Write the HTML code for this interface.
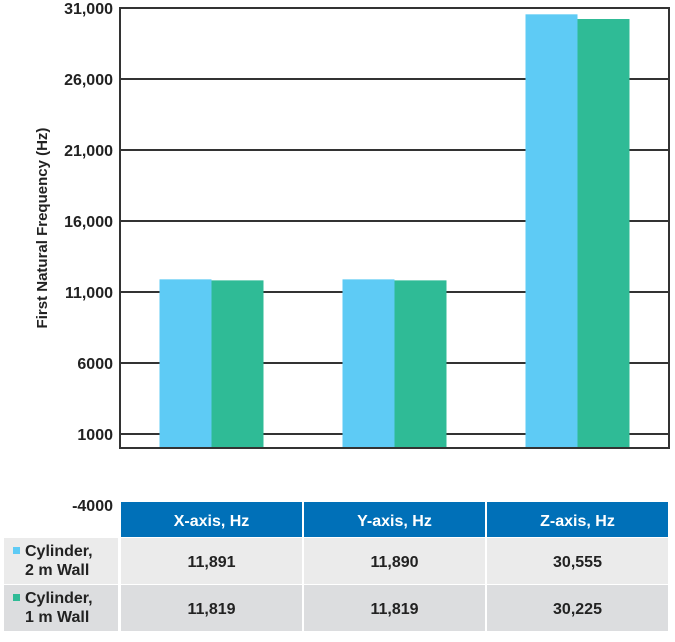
<!DOCTYPE html>
<html><head><meta charset="utf-8"><style>
body{margin:0;background:#fff;font-family:"Liberation Sans",sans-serif;}
svg text{font-family:"Liberation Sans",sans-serif;font-weight:bold;fill:#222;}
</style></head><body>
<svg width="675" height="637">
<g id="grid"></g><g id="bars"></g><g id="ylabels"></g>
<rect x="120" y="8" width="549" height="440" fill="none" stroke="#333" stroke-width="2"/>
<text transform="translate(47,228) rotate(-90)" text-anchor="middle" font-size="15">First Natural Frequency (Hz)</text>
<text x="113" y="511" text-anchor="end" font-size="16">-4000</text>
<g id="table"></g>
</svg>
<script>
const categories=["X-axis, Hz","Y-axis, Hz","Z-axis, Hz"];
const series1=[11891,11890,30555];
const series2=[11819,11819,30225];
const seriesNames=[["Cylinder,","2 m Wall"],["Cylinder,","1 m Wall"]];
const ticks=[31000,26000,21000,16000,11000,6000,1000];
const tickLabels=["31,000","26,000","21,000","16,000","11,000","6000","1000"];
const NS="http://www.w3.org/2000/svg";
const y=v=>8+(31000-v)*0.0142;
const zoneW=183,left=120,barW=52;
function mk(tag,attrs,parent){const e=document.createElementNS(NS,tag);for(const k in attrs)e.setAttribute(k,attrs[k]);parent.appendChild(e);return e;}
const grid=document.getElementById('grid'),bars=document.getElementById('bars'),yl=document.getElementById('ylabels'),tb=document.getElementById('table');
ticks.forEach((t,i)=>{
 const l=mk('line',{x1:left,x2:669,y1:y(t),y2:y(t),stroke:'#333','stroke-width':2},grid);
 
 
 const tx=mk('text',{x:113,y:y(t)+6,'text-anchor':'end','font-size':16},yl);
 tx.textContent=tickLabels[i];
 
 
});
const cols=['#5ecbf5','#2fbb96'];
categories.forEach((c,i)=>{
 const cx=left+zoneW*i+zoneW/2;
 [series1,series2].forEach((s,j)=>{
  const r=mk('rect',{x:cx-barW+j*barW,y:y(s[i]),width:barW,height:y(0)-y(s[i]),fill:cols[j]},bars);
  
  
 });
 const h=mk('rect',{x:left+zoneW*i+1,y:502,width:zoneW-2,height:35,fill:'#0070b8'},tb);
 
 
 const ht=mk('text',{x:cx,y:526,'text-anchor':'middle','font-size':16,style:'fill:#fff'},tb);
 ht.textContent=c;
 
 
 [series1,series2].forEach((s,j)=>{
  const r=mk('rect',{x:left+zoneW*i+1,y:j?585:538,width:zoneW-2,height:46,fill:j?'#dcdddf':'#ebebeb'},tb);
  
  
  const t=mk('text',{x:cx,y:(j?585:538)+29,'text-anchor':'middle','font-size':16},tb);
  t.textContent=s[i].toLocaleString('en-US');
  
  
 });
});
seriesNames.forEach((n,j)=>{
 const y0=j?585:538;
 const r=mk('rect',{x:4,y:y0,width:114,height:46,fill:j?'#dcdddf':'#ebebeb'},tb);
 
 
 const sw=mk('rect',{x:13,y:y0+9,width:7,height:7,fill:cols[j]},tb);
 
 
 n.forEach((line,k)=>{
  const t=mk('text',{x:25,y:y0+18+k*19,'font-size':16},tb);
  t.textContent=line;
  
  
 });
});
</script>
</body></html>
